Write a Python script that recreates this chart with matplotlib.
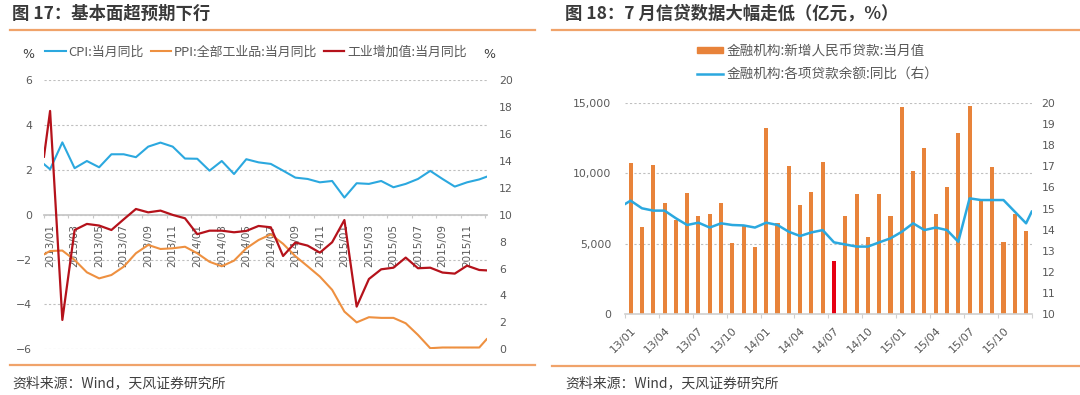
import numpy as np
import pandas as pd
import matplotlib
matplotlib.use("Agg")
import matplotlib.pyplot as plt
from matplotlib.lines import Line2D
from matplotlib.patches import Patch
from matplotlib.ticker import FuncFormatter

# Polices : DejaVu pour les chiffres, Noto CJK pour le chinois
plt.rcParams['font.family'] = ['DejaVu Sans', 'Noto Sans CJK SC']
CJK = ['Noto Sans CJK SC', 'DejaVu Sans']

GRIS_TXT = '#595959'
GRIS_GRILLE = '#BFBFBF'
ORANGE_TRAIT = '#F0A36A'

# ---------------- Données figure 17 ----------------
# mois 2013/01 .. 2015/12 ; chaque série a un point de départ et un point final
# collés aux bords de l'axe (comme dans le graphique Wind d'origine)
months17 = pd.date_range('2013-01-01', periods=36, freq='MS').strftime('%Y/%m')

cpi = [2.25,
       2.02, 3.22, 2.07, 2.39, 2.11, 2.69, 2.69, 2.56, 3.03, 3.21, 3.03, 2.50,
       2.49, 1.96, 2.39, 1.81, 2.47, 2.33, 2.26, 1.96, 1.65, 1.59, 1.44, 1.50,
       0.76, 1.40, 1.37, 1.50, 1.22, 1.37, 1.59, 1.95, 1.59, 1.25, 1.44, 1.57,
       1.69]
ppi = [-1.77,
       -1.62, -1.60, -2.02, -2.57, -2.84, -2.69, -2.32, -1.72, -1.35, -1.53, -1.50, -1.43,
       -1.72, -2.10, -2.30, -2.05, -1.50, -1.13, -0.88, -1.30, -1.85, -2.30, -2.76, -3.35,
       -4.32, -4.80, -4.57, -4.60, -4.60, -4.84, -5.36, -5.95, -5.92, -5.92, -5.92, -5.92,
       -5.55]
iva = [14.3,
       17.7, 2.18, 8.86, 9.31, 9.19, 8.86, 9.65, 10.42, 10.17, 10.30, 9.98, 9.73,
       8.55, 8.81, 8.81, 8.69, 8.79, 9.16, 9.06, 6.93, 7.93, 7.70, 7.18, 7.95,
       9.60, 3.17, 5.22, 5.94, 6.06, 6.81, 6.02, 6.06, 5.70, 5.62, 6.21, 5.89,
       5.86]
noms17 = ['CPI:当月同比', 'PPI:全部工业品:当月同比', '工业增加值:当月同比']

# ---------------- Données figure 18 ----------------
months18 = pd.date_range('2013-01-01', periods=36, freq='MS').strftime('%y/%m')
loans = [10700, 6170, 10600, 7920, 6680, 8620, 6990, 7110, 7870, 5060, 6240, 4790,
         13190, 6440, 10500, 7750, 8690, 10770, 3800, 6990, 8550, 5460, 8520, 6970,
         14720, 10180, 11770, 7080, 9000, 12830, 14770, 8050, 10460, 5100, 7090, 5930]
loan_growth = [15.21,
               15.37, 15.01, 14.90, 14.90, 14.54, 14.22, 14.33, 14.10, 14.30, 14.22, 14.20, 14.10,
               14.33, 14.22, 13.90, 13.70, 13.87, 13.98, 13.40, 13.30, 13.20, 13.20, 13.40, 13.59,
               13.90, 14.30, 13.98, 14.10, 13.98, 13.43, 15.48, 15.40, 15.40, 15.40, 14.85, 14.30,
               14.85]
highlight = '14/07'
noms18 = ['金融机构:新增人民币贷款:当月值', '金融机构:各项贷款余额:同比（右）']

fig = plt.figure(figsize=(10.8, 3.95), dpi=100)

# ================= Figure 17 =================
ax1 = fig.add_axes([0.0407, 0.1157, 0.4099, 0.6818])
ax1b = ax1.twinx()
n17 = len(months17)
x17 = np.r_[-0.5, np.arange(n17), n17 - 0.4]

l_cpi, = ax1.plot(x17, cpi, color='#2BA8DF', lw=1.5)
l_ppi, = ax1.plot(x17, ppi, color='#EE9040', lw=1.5)
l_iva, = ax1b.plot(x17, iva, color='#B5121B', lw=1.6)

ax1.set_xlim(-0.5, n17 - 0.4)
ax1.set_ylim(-6, 6)
ax1.set_yticks(range(-6, 7, 2))
ax1b.set_ylim(0, 20)
ax1b.set_yticks(range(0, 21, 2))

ax1.set_axisbelow(True)
ax1.grid(axis='y', ls=(0, (2, 2)), color=GRIS_GRILLE, lw=0.8)
for s in ['top', 'left', 'right']:
    ax1.spines[s].set_visible(False)
ax1.spines['bottom'].set_position(('data', 0))
ax1.spines['bottom'].set_color('#C8C8C8')
ax1.spines['bottom'].set_linewidth(1.3)
for s in ax1b.spines.values():
    s.set_visible(False)

# petits traits tous les 2 mois, étiquettes verticales sur les mois impairs
ax1.set_xticks(np.arange(-0.5, n17, 2))
ax1.set_xticklabels([])
ax1.set_xticks(np.arange(0, n17, 2), labels=months17[::2], minor=True)
ax1.tick_params(axis='x', which='major', length=2.5, color='#C8C8C8', direction='out')
ax1.tick_params(axis='x', which='minor', length=0, pad=7, labelsize=7.5,
                labelcolor=GRIS_TXT, labelrotation=90)
ax1.tick_params(axis='y', length=0, pad=8.5, labelsize=7.8, labelcolor=GRIS_TXT)
ax1b.tick_params(axis='y', length=0, pad=9, labelsize=7.8, labelcolor=GRIS_TXT)

fig.legend([l_cpi, l_ppi, l_iva], noms17, loc='center', bbox_to_anchor=(256 / 1080, 1 - 52 / 395),
           ncol=3, frameon=False, prop={'family': CJK, 'size': 9.3}, labelcolor=GRIS_TXT,
           handlelength=1.6, handletextpad=0.2, columnspacing=0.5, borderpad=0)
fig.text(28 / 1080, 1 - 54 / 395, '%', ha='center', va='center', size=9, color='#404040')
fig.text(489 / 1080, 1 - 54 / 395, '%', ha='center', va='center', size=9, color='#404040')

fig.text(12 / 1080, 1 - 14 / 395, '图 17：基本面超预期下行', family=CJK, fontweight='bold',
         size=12.5, color='#3A3A3A', va='center')
fig.add_artist(Line2D([10 / 1080, 535 / 1080], [1 - 29.5 / 395] * 2, color=ORANGE_TRAIT, lw=1.6))
fig.add_artist(Line2D([10 / 1080, 535 / 1080], [1 - 365 / 395] * 2, color=ORANGE_TRAIT, lw=1.6))
fig.text(12 / 1080, 1 - 383 / 395, '资料来源：Wind，天风证券研究所', family=CJK, size=10,
         color='#404040', va='center')

# ================= Figure 18 =================
ax2 = fig.add_axes([0.5787, 0.2043, 0.3766, 0.5357])
ax2b = ax2.twinx()
n18 = len(months18)
x18 = np.arange(n18)
couleurs = ['#E60012' if m == highlight else '#E8833A' for m in months18]

ax2.bar(x18, loans, width=0.36, color=couleurs)
l_growth, = ax2b.plot(np.r_[-0.5, x18, n18 - 0.5], loan_growth, color='#2BA8DF', lw=1.8)

ax2.set_xlim(-0.5, n18 - 0.5)
ax2.set_ylim(0, 15000)
ax2.set_yticks([0, 5000, 10000, 15000])
ax2.yaxis.set_major_formatter(FuncFormatter(lambda v, p: f'{v:,.0f}'))
ax2b.set_ylim(10, 20)
ax2b.set_yticks(range(10, 21))

ax2.set_axisbelow(True)
ax2.grid(axis='y', ls=(0, (2, 2)), color=GRIS_GRILLE, lw=0.8)
for s in ['top', 'left', 'right']:
    ax2.spines[s].set_visible(False)
ax2.spines['bottom'].set_color('#D0D0D0')
ax2.spines['bottom'].set_linewidth(1.2)
for s in ax2b.spines.values():
    s.set_visible(False)

ax2.set_xticks(np.arange(-0.5, n18, 3))
ax2.set_xticklabels([])
ax2.set_xticks(np.arange(0, n18, 3), labels=months18[::3], minor=True)
ax2.tick_params(axis='x', which='major', length=3, color='#D0D0D0', direction='out')
ax2.tick_params(axis='x', which='minor', length=0, pad=8, labelsize=8, labelcolor=GRIS_TXT)
for t in ax2.get_xticklabels(minor=True):
    t.set_rotation(45)
    t.set_ha('right')
    t.set_rotation_mode('anchor')
ax2.tick_params(axis='y', length=0, pad=10, labelsize=7.8, labelcolor=GRIS_TXT)
ax2b.tick_params(axis='y', length=0, pad=7, labelsize=7.8, labelcolor=GRIS_TXT)

fig.legend([Patch(color='#E8833A'), l_growth], noms18, loc='center left',
           bbox_to_anchor=(697 / 1080, 1 - 62.5 / 395), ncol=1, frameon=False,
           prop={'family': CJK, 'size': 9.8}, labelcolor=GRIS_TXT, handlelength=1.9,
           handleheight=0.35, handletextpad=0.3, labelspacing=0.7, borderpad=0, borderaxespad=0)

fig.text(565 / 1080, 1 - 14 / 395, '图 18：7 月信贷数据大幅走低（亿元，%）', family=CJK,
         fontweight='bold', size=12.5, color='#3A3A3A', va='center')
fig.add_artist(Line2D([552 / 1080, 1.0], [1 - 29.5 / 395] * 2, color=ORANGE_TRAIT, lw=1.6))
fig.add_artist(Line2D([552 / 1080, 1.0], [1 - 366 / 395] * 2, color=ORANGE_TRAIT, lw=1.6))
fig.text(565 / 1080, 1 - 383 / 395, '资料来源：Wind，天风证券研究所', family=CJK, size=10,
         color='#404040', va='center')

fig.savefig('out.png', dpi=100)
